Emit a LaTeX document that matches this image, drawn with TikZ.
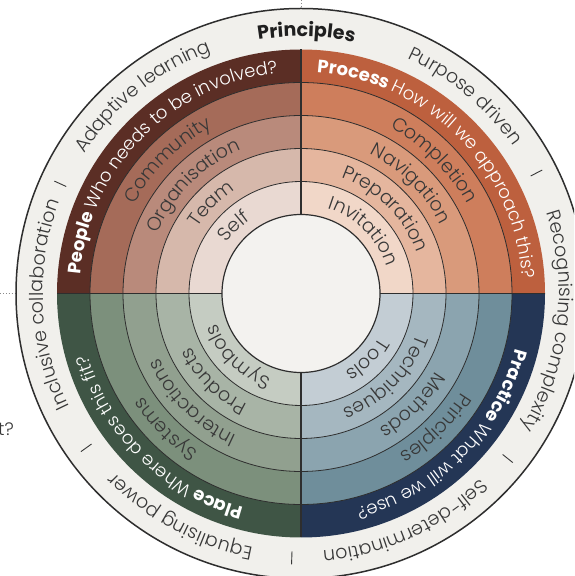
\documentclass[tikz,border=0pt]{standalone}
\usepackage{fontspec}
\IfFontExistsTF{Poppins Light}
  {\setmainfont{Poppins}[UprightFont={* Light},BoldFont={* Bold}]}
  {\IfFontExistsTF{Lato Light}
     {\setmainfont{Lato}[UprightFont={* Light},BoldFont={* Bold}]}
     {\setmainfont{Lato}}}
\usetikzlibrary{decorations.text}
\definecolor{ringgrey}{HTML}{F1F0EC}
\definecolor{innergrey}{HTML}{F3F2EF}
\definecolor{linedark}{HTML}{2E2E2E}
\definecolor{txtdark}{HTML}{383838}
\definecolor{dotgrey}{HTML}{8A8A8A}
% People
\definecolor{pe0}{HTML}{5B2E25}
\definecolor{pe1}{HTML}{A56B59}
\definecolor{pe2}{HTML}{B98A7B}
\definecolor{pe3}{HTML}{D6B8AB}
\definecolor{pe4}{HTML}{E9D9D2}
% Process
\definecolor{pr0}{HTML}{BD603E}
\definecolor{pr1}{HTML}{CE7E5C}
\definecolor{pr2}{HTML}{D99A7B}
\definecolor{pr3}{HTML}{E5B69E}
\definecolor{pr4}{HTML}{F1D7C8}
% Place
\definecolor{pl0}{HTML}{3F5545}
\definecolor{pl1}{HTML}{7C907C}
\definecolor{pl2}{HTML}{91A08F}
\definecolor{pl3}{HTML}{A8B4A6}
\definecolor{pl4}{HTML}{C5CCC2}
% Practice
\definecolor{pa0}{HTML}{243655}
\definecolor{pa1}{HTML}{6F8E9B}
\definecolor{pa2}{HTML}{8BA4AF}
\definecolor{pa3}{HTML}{A5B7C0}
\definecolor{pa4}{HTML}{C3CDD4}
\tikzset{
  dotline/.style={dotgrey, line width=0.9pt, dotted},
  ringline/.style={linedark, line width=0.8pt},
  divline/.style={linedark, line width=1.1pt},
  outline/.style={linedark, line width=1.5pt},
  tickline/.style={txtdark, line width=0.9pt},
}
\newcommand\mysector[4]{%
  \fill[#4] (C) -- ([shift={(#1:#3)}]C) arc[start angle=#1, end angle=#2, radius=#3] -- cycle;}
\newcommand\myquad[6]{% a1 a2 c0..c4
  \mysector{#1}{#2}{244}{#3}\mysector{#1}{#2}{211}{#4}\mysector{#1}{#2}{178}{#5}%
  \mysector{#1}{#2}{145}{#6}}
\newcommand\arctext[5]{% baseline radius, centre angle, size, colour, text
  \begingroup\fontsize{#3}{#3}\selectfont
  \path[decorate,decoration={text along path, text align=center, text color=#4, text={#5}}]
    ([shift={({#2+85}:#1)}]C) arc[start angle={#2+85}, end angle={#2-85}, radius=#1];
  \endgroup}
\newcommand\mytick[1]{\draw[tickline] ([shift={(#1:258)}]C) -- ([shift={(#1:271)}]C);}
\begin{document}
\begin{tikzpicture}[x=1pt,y=1pt]
\useasboundingbox (0,0) rectangle (574,576);
\clip (0,0) rectangle (574,576);
\fill[white] (0,0) rectangle (574,576);
\coordinate (C) at (301,282.5);
\coordinate (topdot) at (301,576);
\coordinate (leftdot) at (0,282.5);
\coordinate (topring) at (301,567.5);
\coordinate (leftring) at (16,282.5);
% outer ring
\fill[ringgrey] (C) circle[radius=285];
\draw[dotline] (topdot) -- (topring);
\draw[dotline] (leftdot) -- (leftring);
% quadrants
\myquad{90}{180}{pe0}{pe1}{pe2}{pe3}
\mysector{90}{180}{112}{pe4}
\myquad{0}{90}{pr0}{pr1}{pr2}{pr3}
\mysector{0}{90}{112}{pr4}
\myquad{180}{270}{pl0}{pl1}{pl2}{pl3}
\mysector{180}{270}{112}{pl4}
\myquad{270}{360}{pa0}{pa1}{pa2}{pa3}
\mysector{270}{360}{112}{pa4}
% ring lines
\foreach \r in {211,178,145,112} {\draw[ringline] (C) circle[radius=\r];}
\filldraw[fill=innergrey, draw=linedark, line width=1.2pt] (C) circle[radius=79];
\draw[divline] ([yshift=79]C) -- ([yshift=244]C);
\draw[divline] ([yshift=-79]C) -- ([yshift=-244]C);
\draw[divline] ([xshift=79]C) -- ([xshift=244]C);
\draw[divline] ([xshift=-79]C) -- ([xshift=-244]C);
\draw[outline] (C) circle[radius=285];
% ticks
\mytick{155.5}\mytick{27.1}\mytick{-38.6}\mytick{-92}\mytick{-144.3}
% outer ring texts
\arctext{257}{88.8}{19}{black!88}{|\bfseries|Principles}
\arctext{258}{128.7}{19}{txtdark}{Adaptive learning}
\arctext{258}{50.2}{19}{txtdark}{Purpose driven}
\arctext{258}{-6.5}{19}{txtdark}{Recognising complexity}
\arctext{258}{-65.5}{19}{txtdark}{Self-determination}
\arctext{258}{-118.4}{19}{txtdark}{Equalising power}
\arctext{258}{182.6}{19}{txtdark}{Inclusive collaboration}
% band texts
\arctext{221.5}{135.6}{18}{white}{|\bfseries|People |\mdseries|Who needs to be involved?}
\arctext{221.5}{44.9}{18}{white}{|\bfseries|Process |\mdseries|How will we approach this?}
\arctext{221.5}{-45}{18}{white}{|\bfseries|Practice |\mdseries|What will we use?}
\arctext{221.5}{-134.5}{18}{white}{|\bfseries|Place |\mdseries|Where does this fit?}
% ring texts: People
\arctext{188.5}{135}{19}{txtdark}{Community}
\arctext{155.5}{135}{19}{txtdark}{Organisation}
\arctext{122.5}{135}{19}{txtdark}{Team}
\arctext{89.5}{135}{19}{txtdark}{Self}
% Process
\arctext{188.5}{45}{19}{txtdark}{Completion}
\arctext{155.5}{45}{19}{txtdark}{Navigation}
\arctext{122.5}{45}{19}{txtdark}{Preparation}
\arctext{89.5}{45}{19}{txtdark}{Invitation}
% Place
\arctext{188.5}{-135}{19}{txtdark}{Systems}
\arctext{155.5}{-135}{19}{txtdark}{Interactions}
\arctext{122.5}{-135}{19}{txtdark}{Products}
\arctext{89.5}{-135}{19}{txtdark}{Symbols}
% Practice
\arctext{188.5}{-45}{19}{txtdark}{Principles}
\arctext{155.5}{-45}{19}{txtdark}{Methods}
\arctext{122.5}{-45}{19}{txtdark}{Techniques}
\arctext{89.5}{-45}{19}{txtdark}{Tools}
% cropped text at left edge
\node[anchor=base east, inner sep=0pt, text=txtdark, font=\fontsize{18}{18}\selectfont] (tq) at (14,140) {t?};
\end{tikzpicture}
\end{document}
